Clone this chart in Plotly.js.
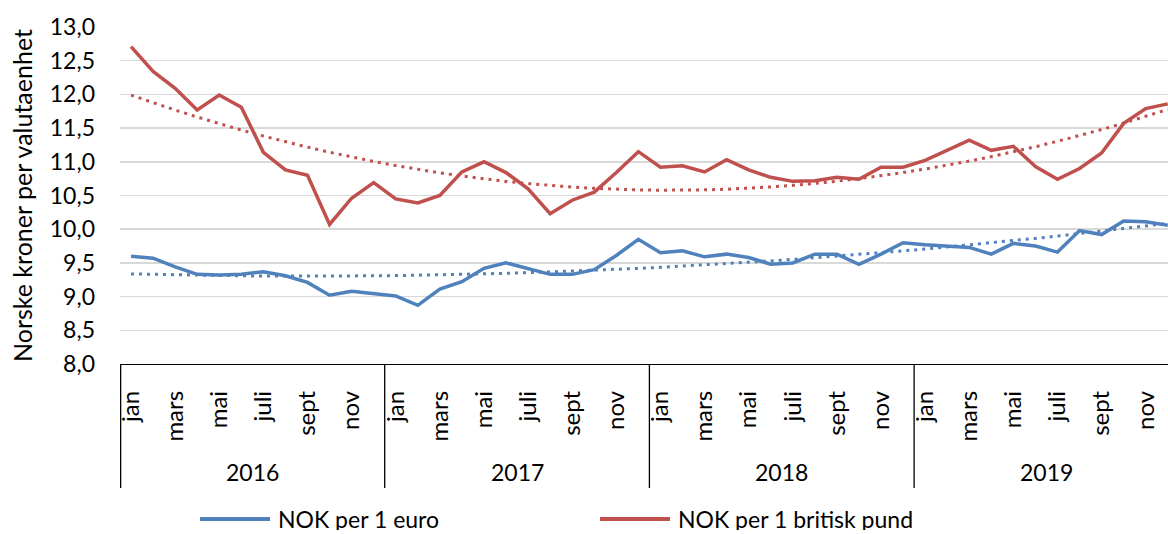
<!DOCTYPE html>
<html>
<head>
<meta charset="utf-8">
<script src="https://cdn.plot.ly/plotly-3.0.1.min.js"></script>
<style>
  html, body { margin: 0; padding: 0; background: #fff; }
  #chart { width: 1168px; height: 534px; }
</style>
</head>
<body>
<div id="chart"></div>
<script>
// ---- Data ----
const years = ["2016", "2017", "2018", "2019"];
const monthNames = ["jan", "feb", "mars", "april", "mai", "juni", "juli", "aug", "sept", "okt", "nov", "des"];

const nokPerEuro = [
  9.60, 9.57, 9.44, 9.33, 9.32, 9.33, 9.37, 9.31, 9.21, 9.02, 9.08, 9.04,
  9.01, 8.87, 9.11, 9.22, 9.42, 9.50, 9.41, 9.33, 9.33, 9.40, 9.61, 9.85,
  9.65, 9.68, 9.59, 9.63, 9.58, 9.48, 9.50, 9.63, 9.63, 9.48, 9.63, 9.80,
  9.77, 9.75, 9.73, 9.63, 9.79, 9.75, 9.66, 9.98, 9.92, 10.12, 10.11, 10.06
];
const nokPerPound = [
  12.71, 12.34, 12.09, 11.77, 11.99, 11.81, 11.14, 10.88, 10.80, 10.07, 10.46, 10.69,
  10.45, 10.39, 10.50, 10.85, 11.00, 10.84, 10.60, 10.23, 10.43, 10.55, 10.84, 11.15,
  10.92, 10.94, 10.85, 11.03, 10.88, 10.77, 10.71, 10.72, 10.77, 10.74, 10.92, 10.92,
  11.02, 11.17, 11.32, 11.17, 11.23, 10.93, 10.74, 10.90, 11.13, 11.57, 11.79, 11.86
];

const seriesNames = ["NOK per 1 euro", "NOK per 1 britisk pund"];
const seriesColors = ["#4F81BD", "#C0504D"];
const yTitle = "Norske kroner per valutaenhet";

// ---- Helpers ----
const n = nokPerEuro.length;
const xIdx = Array.from({length: n}, (_, i) => i);

// Polynomial (order 2) least-squares trendline, as in the original spreadsheet chart
function quadTrend(ys) {
  const xs = ys.map((_, i) => i + 1);
  let s = [0, 0, 0, 0, 0], t = [0, 0, 0];
  xs.forEach((x, i) => {
    for (let k = 0; k < 5; k++) s[k] += Math.pow(x, k);
    for (let k = 0; k < 3; k++) t[k] += Math.pow(x, k) * ys[i];
  });
  const A = [[s[0], s[1], s[2], t[0]], [s[1], s[2], s[3], t[1]], [s[2], s[3], s[4], t[2]]];
  for (let c = 0; c < 3; c++) {
    for (let r = c + 1; r < 3; r++) {
      const f = A[r][c] / A[c][c];
      for (let k = c; k < 4; k++) A[r][k] -= f * A[c][k];
    }
  }
  const b = [0, 0, 0];
  for (let r = 2; r >= 0; r--) {
    let v = A[r][3];
    for (let k = r + 1; k < 3; k++) v -= A[r][k] * b[k];
    b[r] = v / A[r][r];
  }
  return xs.map(x => b[0] + b[1] * x + b[2] * x * x);
}

const FONT = "Lato, 'Open Sans', sans-serif";
const FS = 23;

const traces = [
  {x: xIdx, y: quadTrend(nokPerEuro), mode: "lines", showlegend: false, hoverinfo: "skip",
   line: {color: seriesColors[0], width: 3, dash: "3px,5px"}},
  {x: xIdx, y: quadTrend(nokPerPound), mode: "lines", showlegend: false, hoverinfo: "skip",
   line: {color: seriesColors[1], width: 3, dash: "3px,5px"}},
  {x: xIdx, y: nokPerEuro, name: seriesNames[0], mode: "lines", showlegend: false,
   line: {color: seriesColors[0], width: 3.5}},
  {x: xIdx, y: nokPerPound, name: seriesNames[1], mode: "lines", showlegend: false,
   line: {color: seriesColors[1], width: 3.5}}
];

// Month tick labels (every second month shown)
const tickvals = [], ticktext = [];
xIdx.forEach(i => { if (i % 2 === 0) { tickvals.push(i); ticktext.push(monthNames[i % 12]); } });

const shapes = [];
const annotations = [];
years.forEach((yr, k) => {
  shapes.push({type: "line", xref: "x", yref: "paper", x0: k * 12 - 0.5 + (k === 0 ? 0.03 : 0), x1: k * 12 - 0.5 + (k === 0 ? 0.03 : 0),
               y0: 0, y1: -0.368, line: {color: "#000", width: 1.3}});
  annotations.push({xref: "x", yref: "paper", x: k * 12 + 5.5, y: -0.32, text: yr, showarrow: false,
                    font: {family: FONT, size: FS, color: "#000"}, xanchor: "center", yanchor: "middle"});
});

// Legend (drawn manually to match the long line samples)
const legendY = -0.46;
const legendItems = [{x0: 200, x1: 270, tx: 277}, {x0: 600, x1: 670, tx: 677}];
legendItems.forEach((it, k) => {
  shapes.push({type: "line", xref: "paper", yref: "paper",
               x0: (it.x0 - 120) / 1048, x1: (it.x1 - 120) / 1048, y0: legendY, y1: legendY,
               line: {color: seriesColors[k], width: 4}});
  annotations.push({xref: "paper", yref: "paper", x: (it.tx - 120) / 1048, y: legendY, text: seriesNames[k],
                    showarrow: false, xanchor: "left", yanchor: "middle", height: 22, borderpad: 0,
                    font: {family: FONT, size: FS, color: "#000"}});
});

const layout = {
  width: 1168, height: 534,
  margin: {l: 120, r: 0, t: 27, b: 170, pad: 0},
  paper_bgcolor: "#fff", plot_bgcolor: "#fff",
  separators: ", ",
  font: {family: FONT, size: FS, color: "#000"},
  showlegend: false,
  xaxis: {
    type: "linear", range: [-0.5, 47.01], fixedrange: true,
    tickvals: tickvals, ticktext: ticktext, tickangle: -90,
    showgrid: false, zeroline: false, showline: true, linecolor: "#000", linewidth: 1.3,
    ticks: "", ticklabelstandoff: 16,
    tickfont: {family: FONT, size: 24, color: "#000"}
  },
  yaxis: {
    range: [8, 13], dtick: 0.5, tick0: 8, tickformat: ".1f",
    showgrid: true, gridcolor: "#D9D9D9", gridwidth: 1.5,
    zeroline: false, showline: false, ticks: "", ticklabelstandoff: 24,
    tickfont: {family: FONT, size: FS, color: "#000"},
    title: {text: yTitle, standoff: 10, font: {family: FONT, size: 25, color: "#000"}}
  },
  shapes: shapes,
  annotations: annotations
};

Plotly.newPlot("chart", traces, layout, {displayModeBar: false, staticPlot: true});
</script>
</body>
</html>
